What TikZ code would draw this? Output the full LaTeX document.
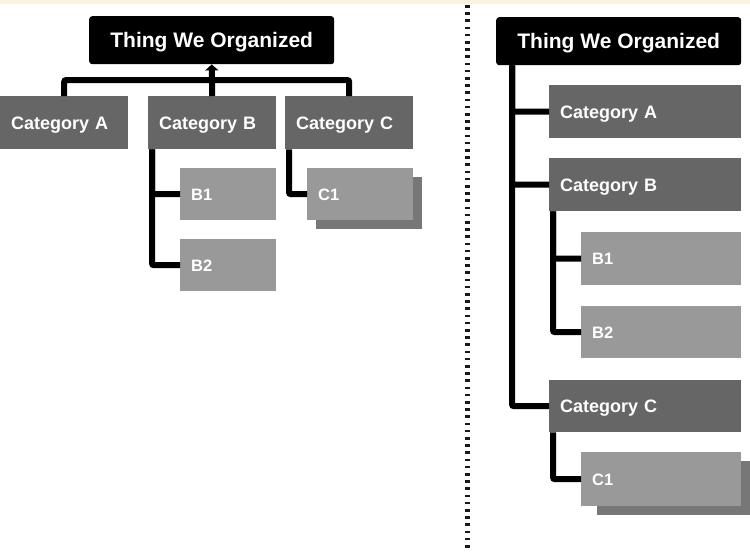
\documentclass[tikz,border=0pt]{standalone}
\usepackage{fontspec}
\setmainfont{Liberation Sans}
\usetikzlibrary{arrows.meta,shadows}
\definecolor{catgray}{HTML}{666666}
\definecolor{subgray}{HTML}{999999}
\definecolor{shadegray}{HTML}{777777}
\definecolor{cream}{HTML}{FAF3E1}
\begin{document}
\begin{tikzpicture}[
  x=1pt, y=-1pt,
  root/.style={fill=black, text=white, rounded corners=3pt, anchor=north west, minimum width=245pt, minimum height=48pt, font=\bfseries\fontsize{21}{25}\selectfont, text height=15pt, text depth=0pt},
  cat/.style={fill=catgray, text=white, anchor=north west, inner xsep=11pt, inner ysep=0pt, minimum height=53pt, align=left, font=\bfseries\fontsize{18}{22}\selectfont, text height=13pt, text depth=0pt},
  sub/.style={fill=subgray, text=white, anchor=north west, inner xsep=11pt, inner ysep=0pt, minimum height=52pt, align=left, font=\bfseries\fontsize{16.5}{20}\selectfont, text height=12pt, text depth=0pt},
  stacked/.style={drop shadow={shadow xshift=#1, shadow yshift=-9pt, fill=shadegray, opacity=1}},
  link/.style={line width=6pt, rounded corners=2pt},
  sep/.style={line width=5pt, color=black!90, dash pattern=on 2.5pt off 4.7pt}
]
\useasboundingbox (0,0) rectangle (750,557);
\fill[white] (0,0) rectangle (750,557);
\fill[cream] (0,0) rectangle (750,4);

\node[root] (lroot) at (89,16) {Thing We Organized};
\node[cat, text width=106pt] (lcatA) at (0,96) {Category A};
\node[cat, text width=106pt] (lcatB) at (148,96) {Category B};
\node[cat, text width=106pt] (lcatC) at (285,96) {Category C};
\node[sub, text width=74pt] (lb1) at (180,168) {B1};
\node[sub, text width=74pt] (lb2) at (180,239) {B2};
\node[sub, text width=84pt, stacked=9pt] (lc1) at (307,168) {C1};

\coordinate (lbar) at (212,80);
\draw[link] (lcatA.north) |- (lbar) -| (lcatC.north);
\draw[link, -{Triangle[width=13pt,length=6pt]}] (lcatB.north) -- (lroot.south);
\draw[link] ([xshift=4pt]lcatB.south west) |- (lb1.west);
\draw[link] ([xshift=4pt]lcatB.south west) |- (lb2.west);
\draw[link] ([xshift=4pt]lcatC.south west) |- (lc1.west);

\draw[sep] (467,5) -- (467,552);

\node[root] (rroot) at (496,17) {Thing We Organized};
\node[cat, text width=170pt] (rcatA) at (549,85) {Category A};
\node[cat, text width=170pt] (rcatB) at (549,158) {Category B};
\node[sub, text width=138pt, minimum height=53pt] (rb1) at (581,232) {B1};
\node[sub, text width=138pt] (rb2) at (581,306) {B2};
\node[cat, text width=170pt, minimum height=52pt] (rcatC) at (549,380) {Category C};
\node[sub, text width=138pt, minimum height=54pt, stacked=16pt] (rc1) at (581,452) {C1};

\draw[link] ([xshift=16pt]rroot.south west) |- (rcatA.west);
\draw[link] ([xshift=16pt]rroot.south west) |- (rcatB.west);
\draw[link] ([xshift=16pt]rroot.south west) |- (rcatC.west);
\draw[link] ([xshift=4pt]rcatB.south west) |- (rb1.west);
\draw[link] ([xshift=4pt]rcatB.south west) |- (rb2.west);
\draw[link] ([xshift=4pt]rcatC.south west) |- (rc1.west);
\end{tikzpicture}
\end{document}
